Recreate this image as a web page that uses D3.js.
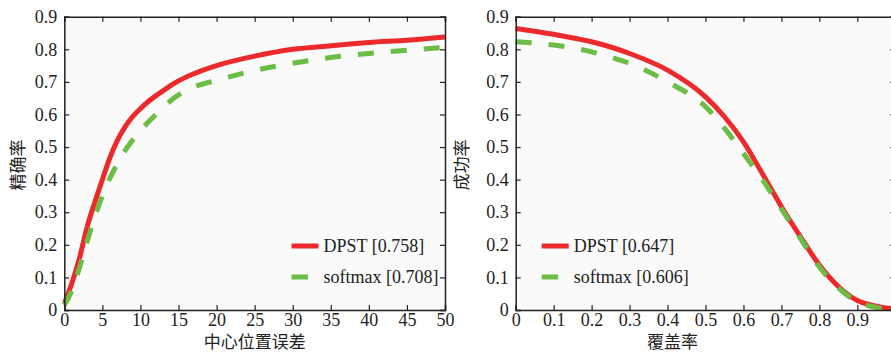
<!DOCTYPE html>
<html>
<head>
<meta charset="utf-8">
<script src="https://cdn.jsdelivr.net/npm/d3@7"></script>
<style>
  body { margin: 0; background: #fff; }
</style>
</head>
<body>
<div id="chart"></div>
<script>
// precision plot (center location error)
const errX = [0, 1, 2, 3, 4, 5, 6, 7, 8, 9, 10, 11, 12, 13, 14, 15, 17, 20, 25, 30, 35, 40, 45, 50];
const dpstPrec = [0.02, 0.083, 0.16, 0.255, 0.33, 0.40, 0.468, 0.522, 0.563, 0.594, 0.618, 0.639, 0.657, 0.673, 0.689, 0.703, 0.725, 0.75, 0.779, 0.80, 0.811, 0.821, 0.828, 0.838];
const softPrec = [0.015, 0.06, 0.13, 0.21, 0.285, 0.35, 0.405, 0.45, 0.49, 0.522, 0.55, 0.576, 0.599, 0.622, 0.643, 0.66, 0.684, 0.705, 0.735, 0.757, 0.775, 0.787, 0.797, 0.806];

// success plot (overlap)
const ovX = [0, 0.1, 0.2, 0.25, 0.3, 0.4, 0.5, 0.55, 0.6, 0.65, 0.7, 0.75, 0.8, 0.85, 0.9, 0.95, 1.0];
const dpstSucc = [0.864, 0.846, 0.823, 0.807, 0.787, 0.736, 0.654, 0.593, 0.516, 0.418, 0.317, 0.225, 0.138, 0.072, 0.029, 0.012, 0.003];
const softSucc = [0.823, 0.813, 0.792, 0.776, 0.757, 0.70, 0.624, 0.558, 0.48, 0.40, 0.31, 0.22, 0.132, 0.068, 0.025, 0.008, 0.002];

const precTicks = [0, 5, 10, 15, 20, 25, 30, 35, 40, 45, 50];
const succTicks = [0, 0.1, 0.2, 0.3, 0.4, 0.5, 0.6, 0.7, 0.8, 0.9, 1.0];
const yTicks = [0, 0.1, 0.2, 0.3, 0.4, 0.5, 0.6, 0.7, 0.8, 0.9];

const legendPrec = ["DPST [0.758]", "softmax [0.708]"];
const legendSucc = ["DPST [0.647]", "softmax [0.606]"];

const red = "#ec2a2c";
const green = "#6bbd45";
const serif = '"Liberation Serif", "Times New Roman", Times, "DejaVu Serif", serif';
const cjk = '"Noto Sans CJK SC", sans-serif';

const width = 891, height = 353;
const svg = d3.select("#chart").append("svg")
  .attr("width", width).attr("height", height);

function panel(opts) {
  const x = d3.scaleLinear().domain(opts.xDomain).range([opts.left, opts.right]);
  const y = d3.scaleLinear().domain([0, 0.9]).range([310, 16.7]);
  const g = svg.append("g");

  g.append("rect")
    .attr("x", opts.left).attr("y", 16.7)
    .attr("width", opts.right - opts.left).attr("height", 310 - 16.7)
    .attr("fill", "#fafafa");

  // curves
  const line = d3.line()
    .x((d, i) => x(opts.xs[i]))
    .y(d => y(d))
    .curve(opts.curve);

  g.append("path").datum(opts.a)
    .attr("d", line).attr("fill", "none")
    .attr("stroke", red).attr("stroke-width", 5);
  g.append("path").datum(opts.b)
    .attr("d", line).attr("fill", "none")
    .attr("stroke", green).attr("stroke-width", 5)
    .attr("stroke-dasharray", "16,17");

  // axes with inward ticks on all four sides
  const bottom = g.append("g").attr("transform", "translate(0,310)")
    .call(d3.axisBottom(x).tickValues(opts.ticks).tickSize(-5).tickPadding(3).tickFormat(opts.fmt));
  const top = g.append("g").attr("transform", "translate(0,16.7)")
    .call(d3.axisTop(x).tickValues(opts.ticks).tickSize(-5).tickFormat(""));
  const leftAx = g.append("g").attr("transform", `translate(${opts.left},0)`)
    .call(d3.axisLeft(y).tickValues(yTicks).tickSize(-5).tickPadding(7).tickFormat(d => d === 0 ? "0" : d3.format(".1f")(d)));
  const rightAx = g.append("g").attr("transform", `translate(${opts.right},0)`)
    .call(d3.axisRight(y).tickValues(yTicks).tickSize(-5).tickFormat(""));

  [bottom, top, leftAx, rightAx].forEach(a => {
    a.attr("font-family", null).attr("font-size", null);
    a.select(".domain").attr("stroke", "#222").attr("stroke-width", 1.5);
    a.selectAll(".tick line").attr("stroke", "#222").attr("stroke-width", 1.2);
    a.selectAll("text").style("font-size", "18px")
      .style("font-family", serif).attr("fill", "#222");
  });

  // axis titles
  g.append("text")
    .attr("x", (opts.left + opts.right) / 2 + opts.xTitleShift).attr("y", 348)
    .attr("text-anchor", "middle")
    .style("font-family", cjk).style("font-size", "17px").attr("fill", "#222")
    .text(opts.xTitle);
  g.append("text")
    .attr("transform", `translate(${opts.yTitleX},165) rotate(-90)`)
    .attr("text-anchor", "middle")
    .style("font-family", cjk).style("font-size", "17px").attr("fill", "#222")
    .text(opts.yTitle);

  // legend
  opts.legend.forEach((label, i) => {
    const ly = 246 + i * 31;
    g.append("line")
      .attr("x1", opts.legendX).attr("x2", opts.legendX + (i === 0 ? 27 : 16.5))
      .attr("y1", ly).attr("y2", ly)
      .attr("stroke", i === 0 ? red : green).attr("stroke-width", 5);
    g.append("text")
      .attr("x", opts.legendX + 32).attr("y", ly + 6)
      .style("font-family", serif).style("font-size", "18px").attr("fill", "#222")
      .text(label);
  });
}

panel({
  xDomain: [0, 50], left: 64.3, right: 445, xs: errX, a: dpstPrec, b: softPrec,
  ticks: precTicks, fmt: d3.format("d"), curve: d3.curveMonotoneX,
  xTitle: "中心位置误差", xTitleShift: 0, yTitle: "精确率", yTitleX: 24,
  legend: legendPrec, legendX: 291.5
});

panel({
  xDomain: [0, 1], left: 515.7, right: 895.3, xs: ovX, a: dpstSucc, b: softSucc,
  ticks: succTicks, fmt: d => d === 0 ? "0" : (d >= 1 ? "" : d3.format(".1f")(d)), curve: d3.curveMonotoneX,
  xTitle: "覆盖率", xTitleShift: -33, yTitle: "成功率", yTitleX: 468,
  legend: legendSucc, legendX: 541.7
});
</script>
</body>
</html>
